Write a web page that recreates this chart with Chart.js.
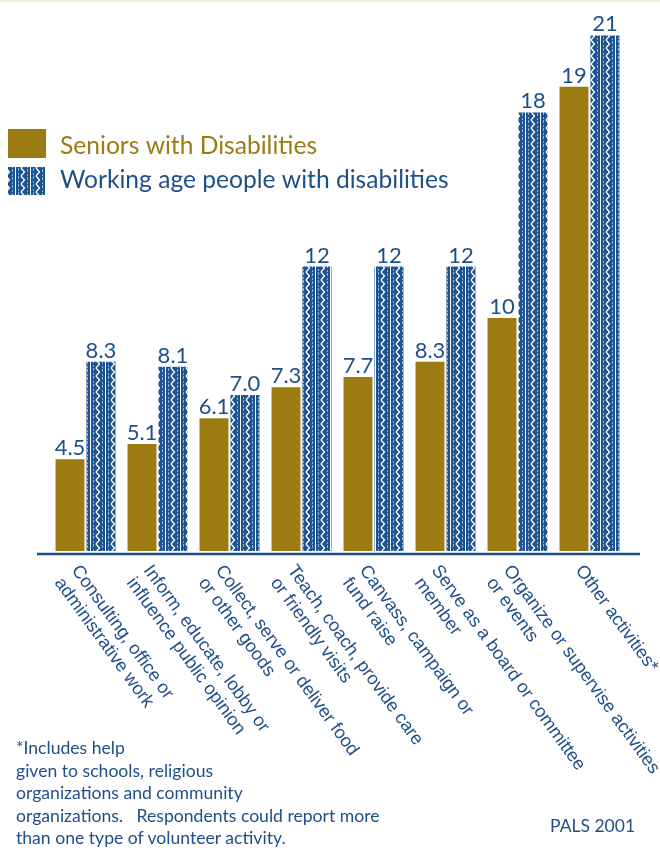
<!DOCTYPE html>
<html lang="en">
<head>
  <meta charset="UTF-8" />
  <title>Volunteer activities - PALS 2001</title>
  <script src="https://cdn.jsdelivr.net/npm/chart.js"></script>
  <style>
    html, body { margin: 0; padding: 0; background: #fff; }
    .page { position: relative; width: 660px; height: 848px; overflow: hidden; }
    #chart { position: absolute; left: 0; top: 0; }
    .topline { position: absolute; left: 0; top: 0; width: 660px; height: 2px; background: #f4ecd8; }
    .note { position: absolute; left: 16px; top: 737px; font: 17.6px Lato, sans-serif; line-height: 22.5px; color: #1f4f88; }
    .source { position: absolute; left: 550px; top: 815px; font: 17.5px Lato, sans-serif; color: #1f4f88; }
  </style>
</head>
<body>
  <div class="page">
    <div class="topline"></div>
    <canvas id="chart" width="660" height="848"></canvas>
    <div class="note">*Includes help<br>given to schools, religious<br>organizations and community<br>organizations.&nbsp;&nbsp; Respondents could report more<br>than one type of volunteer activity.</div>
    <div class="source">PALS 2001</div>
  </div>

  <script>
    const categories = [
      ["Consulting, office or", "administrative work"],
      ["Inform, educate, lobby or", "influence public opinion"],
      ["Collect, serve or deliver food", "or other goods"],
      ["Teach, coach, provide care", "or friendly visits"],
      ["Canvass, campaign or", "fund raise"],
      ["Serve as a board or committee", "member"],
      ["Organize or supervise activities", "or events"],
      ["Other activities*"]
    ];
    const seniors = [4.5, 5.1, 6.1, 7.3, 7.7, 8.3, 10, 19];
    const workingAge = [8.3, 8.1, 7.0, 12, 12, 12, 18, 21];
    const seriesNames = ["Seniors with Disabilities", "Working age people with disabilities"];

    const GOLD = "#9c7b13";
    const BLUE = "#1f4f88";
    const TICK_FONT = "18.2px 'Liberation Sans'";

    // striped zigzag fill used for the working age bars
    function makeStripes() {
      const c = document.createElement("canvas");
      c.width = 15; c.height = 8;
      const g = c.getContext("2d");
      g.fillStyle = "#1d5390";
      g.fillRect(0, 0, 15, 8);
      g.fillStyle = "#ffffff";
      g.fillRect(0, 0, 1, 8);
      g.fillStyle = "#8fb0d6";
      g.fillRect(3, 0, 1, 3);
      g.fillRect(3, 5, 1, 2);
      g.fillRect(12, 1, 1, 3);
      g.fillRect(12, 6, 1, 2);
      g.strokeStyle = "#ffffff";
      g.lineWidth = 1.3;
      g.beginPath();
      g.moveTo(6, 0); g.lineTo(9.5, 4); g.lineTo(6, 8);
      g.stroke();
      return g.createPattern(c, "repeat");
    }
    const stripes = makeStripes();

    function fmt(v) {
      return Number.isInteger(v) && v >= 10 ? String(v) : v.toFixed(1);
    }

    const valueLabels = {
      id: "valueLabels",
      afterDatasetsDraw(chart) {
        const ctx = chart.ctx;
        ctx.save();
        ctx.font = "22px Lato, sans-serif";
        ctx.fillStyle = BLUE;
        ctx.textAlign = "center";
        ctx.textBaseline = "alphabetic";
        chart.data.datasets.forEach((ds, i) => {
          chart.getDatasetMeta(i).data.forEach((bar, j) => {
            ctx.fillText(fmt(ds.data[j]), bar.x, bar.y - 4);
          });
        });
        ctx.restore();
      }
    };

    // slanted category names under the axis line
    const slantedTicks = {
      id: "slantedTicks",
      afterDraw(chart) {
        const ctx = chart.ctx;
        const x = chart.scales.x;
        const area = chart.chartArea;
        ctx.save();
        ctx.strokeStyle = BLUE;
        ctx.lineWidth = 2.5;
        ctx.beginPath();
        ctx.moveTo(37, area.bottom + 3);
        ctx.lineTo(640, area.bottom + 3);
        ctx.stroke();

        ctx.font = TICK_FONT;
        ctx.fillStyle = BLUE;
        ctx.textAlign = "left";
        ctx.textBaseline = "top";
        categories.forEach((lines, i) => {
          ctx.save();
          ctx.translate(x.getPixelForValue(i) - 3, area.bottom + 11);
          ctx.rotate(54 * Math.PI / 180);
          lines.forEach((t, k) => ctx.fillText(t, 0, k * 21));
          ctx.restore();
        });
        ctx.restore();
      }
    };

    const legendBox = {
      id: "legendBox",
      afterDraw(chart) {
        const ctx = chart.ctx;
        ctx.save();
        ctx.fillStyle = GOLD;
        ctx.fillRect(8, 129, 38, 29);
        ctx.fillStyle = stripes;
        ctx.fillRect(8, 167, 38, 28);
        ctx.font = "24.6px Lato, sans-serif";
        ctx.textBaseline = "alphabetic";
        ctx.fillStyle = GOLD;
        ctx.fillText(seriesNames[0], 60, 154);
        ctx.fillStyle = BLUE;
        ctx.fillText(seriesNames[1], 60, 188);
        ctx.restore();
      }
    };

    function draw() {
      new Chart(document.getElementById("chart"), {
        type: "bar",
        data: {
          labels: categories,
          datasets: [
            { label: seriesNames[0], data: seniors, backgroundColor: GOLD },
            { label: seriesNames[1], data: workingAge, backgroundColor: stripes }
          ]
        },
        options: {
          responsive: false,
          animation: false,
          layout: { padding: { left: 49.5, right: 34.5, top: 20, bottom: 297 } },
          datasets: { bar: { categoryPercentage: 0.86, barPercentage: 0.935 } },
          scales: {
            x: { display: false },
            y: { display: false, min: 0.93, max: 21.6 }
          },
          plugins: { legend: { display: false }, tooltip: { enabled: false } }
        },
        plugins: [valueLabels, slantedTicks, legendBox]
      });
    }

    // canvas text needs the fonts ready before the first paint
    Promise.all([
      document.fonts.load(TICK_FONT),
      document.fonts.load("22px Lato")
    ]).then(draw, draw);
  </script>
</body>
</html>
